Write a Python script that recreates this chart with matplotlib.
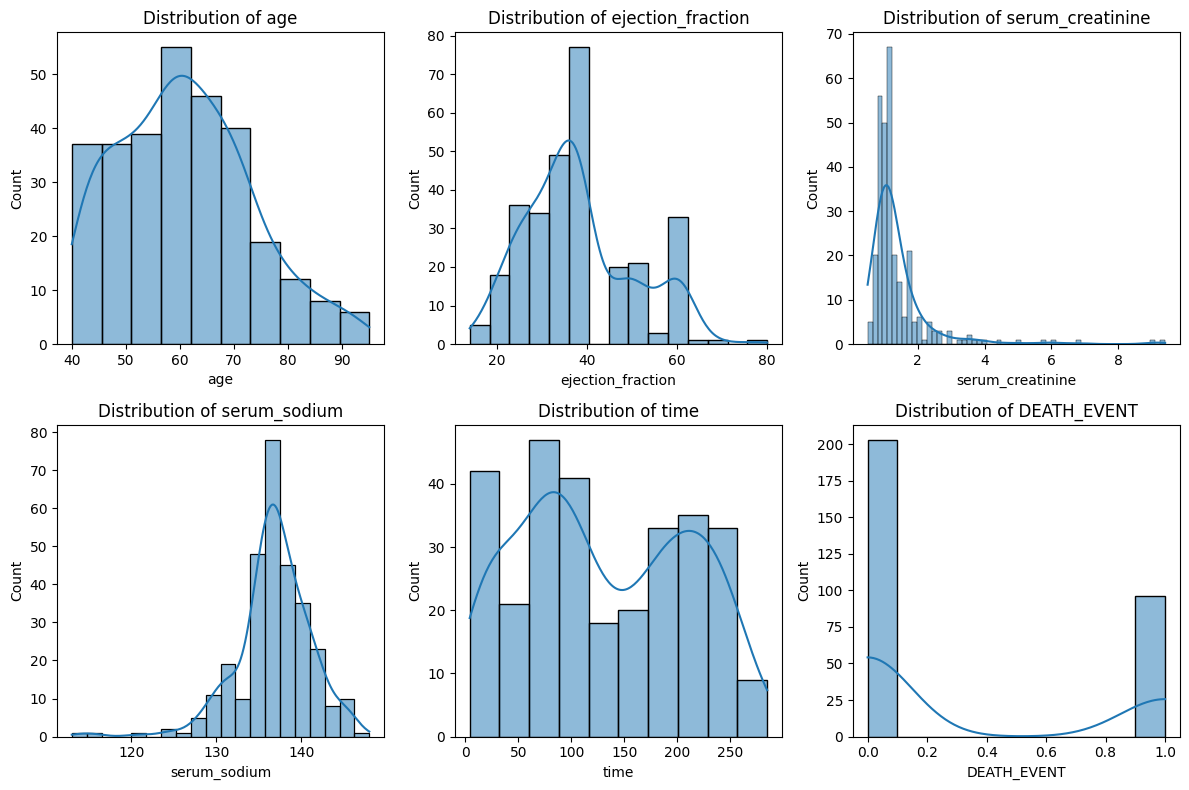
import numpy as np
import matplotlib
matplotlib.use("Agg")
import matplotlib.pyplot as plt
import seaborn as sns

# ---- data (bin ranges + counts per bin) ----
age_range = (40, 95)
age_counts = [37, 37, 39, 55, 46, 40, 19, 12, 8, 6]

ef_range = (14, 80)
ef_counts = [5, 18, 36, 34, 49, 77, 0, 20, 21, 3, 33, 1, 1, 0, 1]

sc_range = (0.5, 9.4)
sc_counts = [5, 20, 56, 50, 67, 20, 14, 6, 21, 5,
             6, 1, 5, 3, 3, 0, 3, 0, 1, 1,
             2, 1, 1, 1, 0, 0, 1, 0, 0, 0,
             1, 0, 0, 0, 0, 1, 0, 1, 0, 0,
             0, 0, 1, 0, 0, 0, 0, 0, 0, 0,
             0, 0, 0, 0, 0, 0, 0, 1, 0, 1]

ss_range = (113, 148)
ss_counts = [1, 1, 0, 0, 1, 0, 2, 1, 5, 11, 19, 10, 48, 78, 45, 35, 23, 8, 10, 1]

time_range = (4, 285)
time_counts = [42, 21, 47, 41, 18, 20, 33, 35, 33, 9]

# DEATH_EVENT is binary: values 0 / 1
death_range = (0, 1)
death_values = [0, 1]
death_value_counts = [203, 96]
death_nbins = 10

columns = ["age", "ejection_fraction", "serum_creatinine",
           "serum_sodium", "time", "DEATH_EVENT"]


def binned(rng, cnts):
    cnts = np.array(cnts)
    edges = np.linspace(rng[0], rng[1], len(cnts) + 1)
    centers = (edges[:-1] + edges[1:]) / 2
    return np.repeat(centers, cnts), edges


datasets = [binned(age_range, age_counts),
            binned(ef_range, ef_counts),
            binned(sc_range, sc_counts),
            binned(ss_range, ss_counts),
            binned(time_range, time_counts),
            (np.repeat(death_values, death_value_counts).astype(float),
             np.linspace(death_range[0], death_range[1], death_nbins + 1))]


def kde_curve(samples, lo, hi, binwidth):
    n = samples.size
    bw = samples.std(ddof=1) * n ** (-1 / 5)
    grid = np.linspace(lo, hi, 200)
    dens = np.exp(-0.5 * ((grid[:, None] - samples[None, :]) / bw) ** 2).sum(axis=1)
    dens /= n * bw * np.sqrt(2 * np.pi)
    return grid, dens * n * binwidth


fig, axes = plt.subplots(2, 3, figsize=(12, 8), dpi=100)
for ax, col, (samples, edges) in zip(axes.flat, columns, datasets):
    sns.histplot(x=samples, bins=edges.tolist(), ax=ax, color="C0", alpha=0.5)
    gx, gy = kde_curve(samples, edges[0], edges[-1], edges[1] - edges[0])
    ax.plot(gx, gy, color="C0", linewidth=1.5)
    ax.set_title(f"Distribution of {col}")
    ax.set_xlabel(col)
    ax.set_ylabel("Count")

plt.tight_layout()
fig.savefig("out.png", dpi=100, bbox_inches="tight")
